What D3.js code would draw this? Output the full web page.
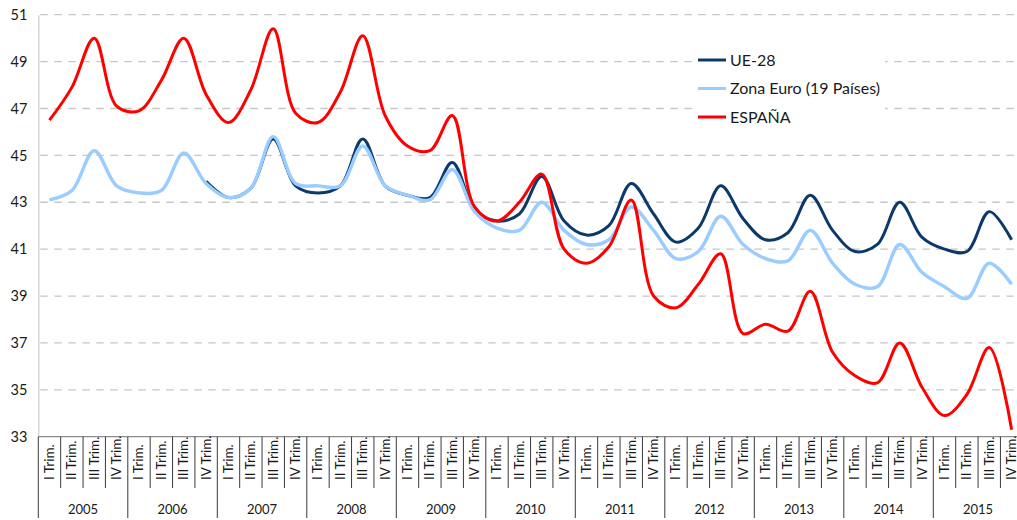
<!DOCTYPE html>
<html>
<head>
<meta charset="utf-8">
<script src="https://cdn.jsdelivr.net/npm/d3@7"></script>
<style>
  html, body { margin: 0; padding: 0; background: #fff; }
  svg { display: block; font-family: Lato, "Open Sans", sans-serif; }
</style>
</head>
<body>
<svg class="chart" width="1017" height="520"></svg>
<script>
// categories
var years = ["2005", "2006", "2007", "2008", "2009", "2010", "2011", "2012", "2013", "2014", "2015"];
var quarters = ["I Trim.", "II Trim.", "III Trim.", "IV Trim."];
var yTicks = [33, 35, 37, 39, 41, 43, 45, 47, 49, 51];

// series (one value per quarter, 2005 I -> 2015 IV)
var ue28 = [null, null, null, null, null, null, null, 43.9,
  43.2, 43.6, 45.7, 43.7,
  43.4, 43.7, 45.7, 43.7,
  43.3, 43.2, 44.7, 42.7,
  42.2, 42.5, 44.1, 42.2,
  41.6, 42.0, 43.8, 42.5,
  41.3, 41.9, 43.7, 42.3,
  41.4, 41.7, 43.3, 41.8,
  40.9, 41.2, 43.0, 41.5,
  41.0, 40.9, 42.6, 41.4];
var zonaEuro = [43.1, 43.5, 45.2, 43.7,
  43.4, 43.5, 45.1, 43.8,
  43.2, 43.6, 45.8, 43.8,
  43.7, 43.7, 45.4, 43.7,
  43.3, 43.1, 44.4, 42.6,
  41.9, 41.8, 43.0, 41.8,
  41.2, 41.4, 42.8, 41.8,
  40.6, 40.9, 42.4, 41.2,
  40.6, 40.5, 41.8, 40.4,
  39.5, 39.4, 41.2, 40.0,
  39.4, 38.9, 40.4, 39.5];
var espana = [46.5, 47.9, 50.0, 47.1,
  46.9, 48.2, 50.0, 47.6,
  46.4, 47.8, 50.4, 46.8,
  46.4, 47.7, 50.1, 46.7,
  45.4, 45.2, 46.7, 42.8,
  42.2, 43.0, 44.2, 41.0,
  40.4, 41.1, 43.1, 39.0,
  38.5, 39.5, 40.8, 37.4,
  37.8, 37.5, 39.2, 36.6,
  35.6, 35.3, 37.0, 35.1,
  33.9, 34.8, 36.8, 33.3];

var seriesNames = ["UE-28", "Zona Euro (19 Países)", "ESPAÑA"];
var seriesColors = ["#0b3a6a", "#99ccff", "#ff0000"];

var width = 1017;
var plotLeft = 38.3, plotRight = 1022.8, plotTop = 14.7, plotBottom = 436.7;

var svg = d3.select(".chart");

// one key per quarter
var keys = [];
years.forEach(function(yr) {
  quarters.forEach(function(q) { keys.push(yr + "|" + q); });
});

var x = d3.scaleBand().domain(keys).range([plotLeft, plotRight]).padding(0);
var y = d3.scaleLinear().domain([33, 51]).range([plotBottom, plotTop]);

// gridlines
svg.append("g")
  .selectAll("line")
  .data(yTicks.filter(function(d) { return d > 33; }))
  .enter().append("line")
  .attr("x1", plotLeft + 2)
  .attr("x2", width)
  .attr("y1", function(d) { return y(d); })
  .attr("y2", function(d) { return y(d); })
  .attr("stroke", "#c6c6c6")
  .attr("stroke-width", 1.3)
  .attr("stroke-dasharray", "7.5,6.5");

// y axis
var yAxis = svg.append("g")
  .attr("transform", "translate(" + plotLeft + ",0)")
  .call(d3.axisLeft(y).tickValues(yTicks).tickSize(0).tickPadding(11).tickFormat(d3.format("d")));
yAxis.select(".domain").attr("stroke", "#d0d0d0").attr("stroke-width", 1.3);
yAxis.selectAll("text")
  .attr("fill", "#1a1a1a")
  .style("font-size", "14.5px")
  .style("font-family", "Lato, sans-serif");

// x axis base line
svg.append("line")
  .attr("x1", plotLeft).attr("x2", width)
  .attr("y1", plotBottom).attr("y2", plotBottom)
  .attr("stroke", "#8c8c8c")
  .attr("stroke-width", 1.3);

// quarter separators and labels
var xAxis = svg.append("g");
xAxis.selectAll(".sep")
  .data(keys)
  .enter().append("line")
  .attr("class", "sep")
  .attr("x1", function(d) { return x(d); })
  .attr("x2", function(d) { return x(d); })
  .attr("y1", plotBottom)
  .attr("y2", function(d, i) { return i % 4 === 0 ? 518 : 488; })
  .attr("stroke", "#3a3a3a")
  .attr("stroke-width", 1);

xAxis.selectAll(".qlabel")
  .data(keys)
  .enter().append("text")
  .attr("class", "qlabel")
  .attr("transform", function(d) {
    return "translate(" + (x(d) + x.bandwidth() / 2 + 4.5) + ",480) rotate(-90)";
  })
  .attr("text-anchor", "start")
  .attr("fill", "#1a1a1a")
  .style("font-size", "13.5px")
  .text(function(d) { return d.split("|")[1]; });

xAxis.selectAll(".ylabel")
  .data(years)
  .enter().append("text")
  .attr("class", "ylabel")
  .attr("x", function(d) { return x(d + "|" + quarters[0]) + x.bandwidth() * 2; })
  .attr("y", 513.5)
  .attr("text-anchor", "middle")
  .attr("fill", "#1a1a1a")
  .style("font-size", "13px")
  .text(function(d) { return d; });

// lines
var line = d3.line()
  .defined(function(d) { return d.v != null; })
  .x(function(d) { return x(d.k) + x.bandwidth() / 2; })
  .y(function(d) { return y(d.v); })
  .curve(d3.curveCatmullRom.alpha(0.5));

var allSeries = [ue28, zonaEuro, espana];
var widths = [3, 3.4, 3];
allSeries.forEach(function(s, si) {
  var pts = s.map(function(v, i) { return { k: keys[i], v: v }; });
  svg.append("path")
    .datum(pts)
    .attr("fill", "none")
    .attr("stroke", seriesColors[si])
    .attr("stroke-width", widths[si])
    .attr("stroke-linejoin", "round")
    .attr("d", line);
});

// legend
var legend = svg.append("g");
legend.append("rect")
  .attr("x", 692).attr("y", 45)
  .attr("width", 193).attr("height", 86)
  .attr("fill", "#fff");
var ly = [60, 88.5, 117];
seriesNames.forEach(function(n, i) {
  legend.append("line")
    .attr("x1", 698).attr("x2", 726)
    .attr("y1", ly[i]).attr("y2", ly[i])
    .attr("stroke", seriesColors[i])
    .attr("stroke-width", 3);
  legend.append("text")
    .attr("x", 730).attr("y", ly[i])
    .attr("dy", "0.35em")
    .attr("fill", "#1a1a1a")
    .style("font-size", "16px")
    .text(n);
});
</script>
</body>
</html>
